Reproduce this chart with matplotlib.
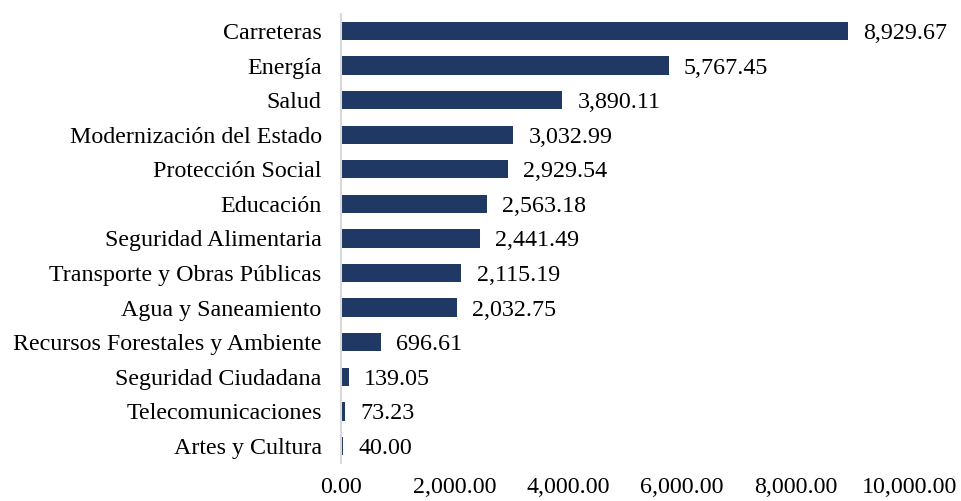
import matplotlib.pyplot as plt

plt.rcParams["font.family"] = ["Liberation Serif", "DejaVu Serif"]

# sectores y montos
sectores = [
    "Carreteras",
    "Energía",
    "Salud",
    "Modernización del Estado",
    "Protección Social",
    "Educación",
    "Seguridad Alimentaria",
    "Transporte y Obras Públicas",
    "Agua y Saneamiento",
    "Recursos Forestales y Ambiente",
    "Seguridad Ciudadana",
    "Telecomunicaciones",
    "Artes y Cultura",
]
montos = [8929.67, 5767.45, 3890.11, 3032.99, 2929.54, 2563.18, 2441.49,
          2115.19, 2032.75, 696.61, 139.05, 73.23, 40.00]
xticks = [0, 2000, 4000, 6000, 8000, 10000]

color_barra = "#1F3864"
fs = 17.3

fig = plt.figure(figsize=(9.61, 5.01), dpi=100)
ax = fig.add_axes([0.355, 0.0753, 0.591, 0.8974])

pos = list(range(len(sectores)))
ax.barh(pos, montos, height=0.53, color=color_barra)

# etiquetas de valor al final de cada barra
for p, v in zip(pos, montos):
    ax.annotate(f"{v:,.2f}", xy=(v, p), xytext=(11, 0),
                textcoords="offset points", ha="left", va="center_baseline",
                fontsize=fs, color="black")

ax.set_yticks(pos)
ax.set_yticklabels(sectores, fontsize=fs, va="center_baseline")
ax.set_ylim(len(sectores) - 0.5, -0.5)

ax.set_xlim(0, 10000)
ax.set_xticks(xticks)
ax.set_xticklabels([f"{t:,.2f}" for t in xticks], fontsize=fs)

ax.tick_params(axis="y", length=0, pad=14)
ax.tick_params(axis="x", length=0, pad=10)

for s in ["top", "right", "bottom"]:
    ax.spines[s].set_visible(False)
ax.spines["left"].set_color("#D9D9D9")
ax.spines["left"].set_linewidth(1.5)

fig.savefig("out.png", dpi=100)
